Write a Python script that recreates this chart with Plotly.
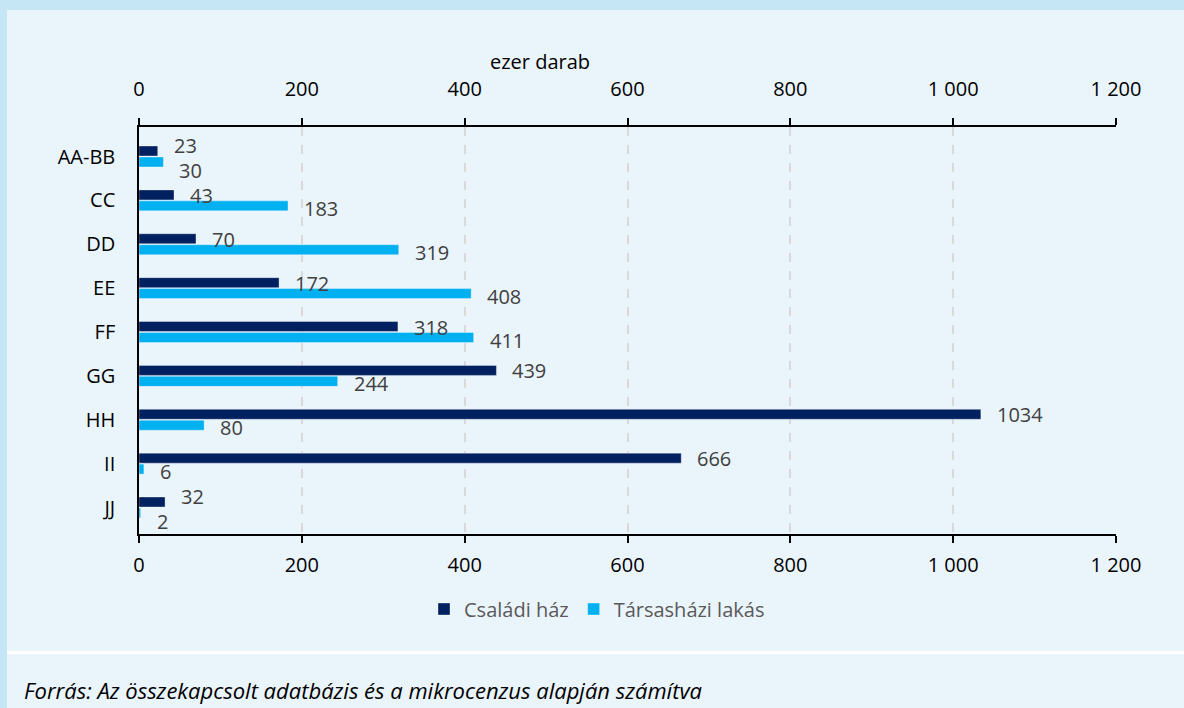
import plotly.graph_objects as go

# Kategóriák és értékek (ezer darab)
categories = ["AA-BB", "CC", "DD", "EE", "FF", "GG", "HH", "II", "JJ"]
csaladi_haz = [23, 43, 70, 172, 318, 439, 1034, 666, 32]
tarsashazi_lakas = [30, 183, 319, 408, 411, 244, 80, 6, 2]
series_names = ["Családi ház", "Társasházi lakás"]
tick_values = [0, 200, 400, 600, 800, 1000, 1200]
tick_labels = ["0", "200", "400", "600", "800", "1 000", "1 200"]
axis_title = "ezer darab"
source_note = "Forrás: Az összekapcsolt adatbázis és a mikrocenzus alapján számítva"

DARK = "#002060"
LIGHT = "#00B0F0"
PANEL = "#EAF4FB"
BAND = "#C4E6F5"
FONT = "Open Sans"

W, H = 1184, 708
L, R, T, B = 139, 68, 127, 174
plot_w = W - L - R
plot_h = H - T - B


def px_x(px):
    return (px - L) / plot_w


def px_y(py):
    return (H - B - py) / plot_h


fig = go.Figure()

fig.add_trace(go.Bar(
    y=categories, x=csaladi_haz, name=series_names[0], orientation="h",
    marker=dict(color=DARK, line=dict(color="rgba(255,255,255,0.45)", width=0.8)),
))
fig.add_trace(go.Bar(
    y=categories, x=tarsashazi_lakas, name=series_names[1], orientation="h",
    marker=dict(color=LIGHT, line=dict(color="rgba(255,255,255,0.45)", width=0.8)),
))
# invisible trace that carries the top value axis
fig.add_trace(go.Scatter(
    x=[tick_values[0], tick_values[-1]], y=[categories[0], categories[0]],
    xaxis="x2", mode="markers", marker=dict(opacity=0),
    showlegend=False, hoverinfo="skip",
))

# value labels to the right of each bar; labels that would collide get pushed apart
px_per_unit = plot_w / (tick_values[-1] - tick_values[0])
char_w = 11.5
annotations = []
for cat, v1, v2 in zip(categories, csaladi_haz, tarsashazi_lakas):
    s1, s2 = str(v1), str(v2)
    a1, b1 = v1 * px_per_unit, v1 * px_per_unit + len(s1) * char_w
    a2, b2 = v2 * px_per_unit, v2 * px_per_unit + len(s2) * char_w
    overlap = a1 < b2 + 15 and a2 < b1 + 15
    up, down = (11, 14) if overlap else (5, 8)
    for v, s, dy in ((v1, s1, up), (v2, s2, -down)):
        annotations.append(dict(
            x=v, y=cat, xref="x", yref="y", text=s, showarrow=False,
            xanchor="left", yanchor="middle", xshift=14, yshift=dy,
            font=dict(family=FONT, size=20, color="#404040"),
        ))

annotations.append(dict(
    x=px_x(540), y=px_y(62), xref="paper", yref="paper", text=axis_title,
    showarrow=False, xanchor="center", yanchor="middle",
    font=dict(family=FONT, size=20, color="#000000"),
))
annotations.append(dict(
    x=px_x(22), y=px_y(690), xref="paper", yref="paper",
    text="<i>" + source_note + "</i>", showarrow=False,
    xanchor="left", yanchor="middle",
    font=dict(family=FONT, size=22, color="#000000"),
))

shapes = [
    # top band
    dict(type="rect", xref="paper", yref="paper", x0=px_x(0), x1=px_x(W),
         y0=px_y(0), y1=px_y(10), fillcolor=BAND, line=dict(width=0), layer="below"),
    # left strip
    dict(type="rect", xref="paper", yref="paper", x0=px_x(0), x1=px_x(7),
         y0=px_y(10), y1=px_y(H), fillcolor=BAND, line=dict(width=0), layer="below"),
    # separator above the source note
    dict(type="rect", xref="paper", yref="paper", x0=px_x(7), x1=px_x(W),
         y0=px_y(651), y1=px_y(654), fillcolor="#FFFFFF", line=dict(width=0), layer="below"),
]

axis_common = dict(
    range=[tick_values[0], tick_values[-1]],
    tickmode="array", tickvals=tick_values, ticktext=tick_labels,
    ticks="outside", ticklen=7, tickwidth=1.5, tickcolor="#000000",
    showline=True, linecolor="#000000", linewidth=1.5,
    tickfont=dict(family=FONT, size=20, color="#000000"),
    zeroline=False, fixedrange=True,
)

fig.update_layout(
    width=W, height=H, autosize=False,
    margin=dict(l=L, r=R, t=T, b=B),
    paper_bgcolor=PANEL, plot_bgcolor=PANEL,
    barmode="group", bargap=0.5, bargroupgap=0.09,
    xaxis=dict(**axis_common, side="bottom",
               showgrid=True, gridcolor="#D9D9D9", gridwidth=1.5, griddash="dash",
               ticklabelstandoff=5),
    xaxis2=dict(**axis_common, side="top", overlaying="x", anchor="y",
                showgrid=False, ticklabelstandoff=14),
    yaxis=dict(autorange="reversed", showline=True, linecolor="#000000", linewidth=1.5,
               ticks="", showgrid=False, ticklabelstandoff=18,
               tickfont=dict(family=FONT, size=20, color="#000000"), fixedrange=True),
    legend=dict(orientation="h", x=px_x(597), y=px_y(609), xanchor="center",
                yanchor="middle", bgcolor="rgba(0,0,0,0)",
                font=dict(family=FONT, size=20, color="#595959"),
                itemwidth=30, traceorder="normal"),
    annotations=annotations, shapes=shapes,
    showlegend=True,
)

fig.write_html("out.html")
